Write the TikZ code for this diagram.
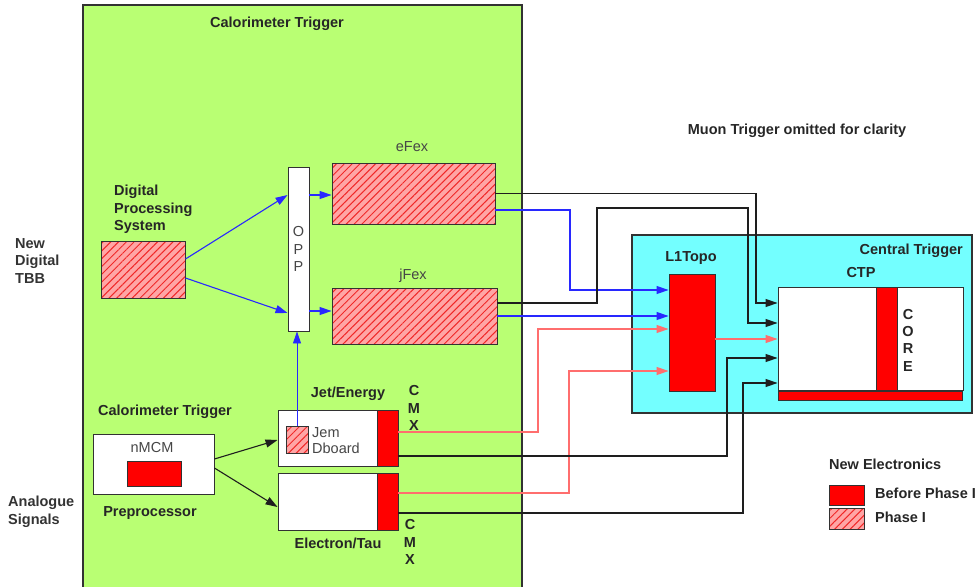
\documentclass[tikz,border=0pt]{standalone}
\usepackage{fontspec}
\setmainfont{Liberation Sans}
\usetikzlibrary{arrows.meta,patterns.meta}
\definecolor{calgreen}{RGB}{185,255,115}
\definecolor{ctcyan}{RGB}{115,255,255}
\definecolor{solidred}{RGB}{255,0,0}
\definecolor{hatchbg}{RGB}{255,165,165}
\definecolor{hatchline}{RGB}{240,40,40}
\definecolor{bluewire}{RGB}{40,40,255}
\definecolor{redwire}{RGB}{255,110,110}
\definecolor{blackwire}{RGB}{30,30,30}
\definecolor{edge}{RGB}{50,50,50}
\definecolor{softtext}{RGB}{70,70,70}
\begin{document}
\begin{tikzpicture}[x=1pt,y=-1pt,
  every node/.style={font=\fontsize{14.5}{17.5}\selectfont, inner sep=0pt},
  bold/.style={font=\fontsize{14.5}{17.5}\selectfont\bfseries, text=black!85},
  plain/.style={text=softtext},
  blockbox/.style={draw=edge, line width=0.9pt, inner sep=0pt},
  whitebox/.style={blockbox, fill=white},
  redbox/.style={blockbox, fill=solidred},
  hatchbox/.style={blockbox, preaction={fill=hatchbg}, pattern={Lines[angle=45,distance=5.5pt,line width=1pt]}, pattern color=hatchline},
  wire/.style={line width=1.1pt},
  tip/.style={-{Triangle[length=12pt,width=8pt]}},
  bluew/.style={wire, draw=bluewire},
  redw/.style={wire, draw=redwire},
  blackw/.style={wire, draw=blackwire},
]
\useasboundingbox (0,0) rectangle (979,586);

% containers
\node[blockbox, fill=calgreen, line width=1.3pt, minimum width=439pt, minimum height=585pt] (calo) at (302.5,297.5) {};
\node[blockbox, fill=ctcyan, line width=1.3pt, minimum width=340pt, minimum height=178pt] (central) at (802,324) {};

% titles and side labels
\node[bold, anchor=mid] (calotitle) at (277,25) {Calorimeter Trigger};
\node[bold, anchor=mid] (muon) at (797,132) {Muon Trigger omitted for clarity};
\node[bold, anchor=north west, align=left, text=black!80] (newtbb) at (15,238) {New\\Digital\\TBB};
\node[bold, anchor=north west, align=left, text=black!80] (analogue) at (8,496) {Analogue\\Signals};

% digital processing system
\node[bold, anchor=north west, align=left] (dpslabel) at (114,185) {Digital\\Processing\\System};
\node[hatchbox, minimum width=84pt, minimum height=57pt] (dps) at (143,269.5) {};

% OPP
\node[whitebox, minimum width=21pt, minimum height=164pt, align=center, plain] (opp) at (298.5,249) {O\\P\\P};

% eFex / jFex
\node[hatchbox, minimum width=163pt, minimum height=61pt] (efex) at (413.5,193.5) {};
\node[plain, anchor=mid] (efexlabel) at (412,149) {eFex};
\node[hatchbox, minimum width=165pt, minimum height=56pt] (jfex) at (414.5,316) {};
\node[plain, anchor=mid] (jfexlabel) at (413,277) {jFex};

% preprocessor
\node[bold, anchor=mid] (calotitle2) at (165,413) {Calorimeter Trigger};
\node[whitebox, minimum width=121pt, minimum height=60pt] (nmcmbox) at (153.5,464) {};
\node[plain, anchor=mid] (nmcmlabel) at (152,450) {nMCM};
\node[redbox, minimum width=54pt, minimum height=25pt] (nmcmred) at (154,473.5) {};
\node[bold, anchor=mid] (preproc) at (150,514) {Preprocessor};

% Jet/Energy
\node[whitebox, minimum width=99pt, minimum height=56pt] (je) at (327.5,438) {};
\node[redbox, minimum width=21pt, minimum height=56pt] (jecmx) at (387.5,438) {};
\node[hatchbox, minimum width=22pt, minimum height=27pt] (jem) at (297,439.5) {};
\node[plain, anchor=west, align=left, font=\fontsize{14.5}{16}\selectfont] (jemlabel) at (312,441) {Jem\\Dboard};
\node[bold, anchor=mid] (jelabel) at (348,395) {Jet/Energy};
\node[bold, align=center] (cmxtop) at (414,408) {C\\M\\X};

% Electron/Tau
\node[whitebox, minimum width=99pt, minimum height=57pt] (et) at (327.5,501.5) {};
\node[redbox, minimum width=21pt, minimum height=57pt] (etcmx) at (387.5,501.5) {};
\node[bold, anchor=mid] (etlabel) at (338,546) {Electron/Tau};
\node[bold, align=center] (cmxbot) at (410,542) {C\\M\\X};

% Central trigger
\node[bold, anchor=mid east] (centrallabel) at (963,252) {Central Trigger};
\node[bold, anchor=mid] (l1label) at (691,259) {L1Topo};
\node[redbox, minimum width=46pt, minimum height=117pt] (l1topo) at (692,332.5) {};
\node[bold, anchor=mid] (ctplabel) at (861,275) {CTP};
\node[whitebox, minimum width=185pt, minimum height=103pt] (ctp) at (870.5,338.5) {};
\node[redbox, minimum width=21pt, minimum height=103pt] (corebar) at (886.5,338.5) {};
\node[redbox, minimum width=184pt, minimum height=9pt] (ctpbar) at (870,395.5) {};
\node[bold, align=center, font=\fontsize{14.5}{17.3}\selectfont\bfseries] (corelabel) at (908,340) {C\\O\\R\\E};

% legend
\node[bold, anchor=mid west] (legtitle) at (829,467) {New Electronics};
\node[redbox, minimum width=35pt, minimum height=20pt] (legred) at (846.5,495) {};
\node[hatchbox, minimum width=35pt, minimum height=21pt] (leghatch) at (846.5,518.5) {};
\node[bold, anchor=mid west] (legredtext) at (875,496) {Before Phase I};
\node[bold, anchor=mid west] (leghatchtext) at (875,520) {Phase I};

% DPS -> OPP, OPP -> Fex
\draw[bluew, tip] ([yshift=10.5pt]dps.east) -- ([yshift=54pt]opp.west);
\draw[bluew, tip] ([yshift=-8.5pt]dps.east) -- ([yshift=-64pt]opp.west);
\draw[bluew, tip] ([yshift=54pt]opp.east) -- ([yshift=54pt]opp.east -| efex.west);
\draw[bluew, tip] ([yshift=-62pt]opp.east) -- ([yshift=-62pt]opp.east -| jfex.west);
\draw[bluewire, line width=0.9pt, tip] (jem.north) -- (jem.north |- opp.south);

% preprocessor -> JE / ET
\draw[blackw, tip] ([yshift=5pt]nmcmbox.east) -- ([yshift=-2pt]je.west);
\draw[blackw, tip] ([yshift=-4pt]nmcmbox.east) -- ([yshift=-5.5pt]et.west);

% eFex outputs
\draw[blackw, tip] (efex.east) -- (756,193.5) |- ([yshift=35.5pt]ctp.west);
\draw[bluew, tip] ([yshift=-16.5pt]efex.east) -- (570,210) |- ([yshift=42.5pt]l1topo.west);

% jFex outputs
\draw[blackw, tip] ([yshift=13pt]jfex.east) -- (597,303) -- (597,208) -- (748,208) |- ([yshift=15.5pt]ctp.west);
\draw[bluew, tip] (jfex.east) -- (jfex.east -| l1topo.west);

% CMX outputs
\draw[redw, tip] ([yshift=6pt]jecmx.east) -- (538,432) |- ([yshift=3.5pt]l1topo.west);
\draw[redw, tip] ([yshift=8.5pt]etcmx.east) -- (569,493) |- ([yshift=-38.5pt]l1topo.west);
\draw[blackw, tip] ([yshift=-18pt]jecmx.east) -- (727,456) |- ([yshift=-19.5pt]ctp.west);
\draw[blackw, tip] ([yshift=-11.5pt]etcmx.east) -- (743,513) |- ([yshift=-44.5pt]ctp.west);

% L1Topo -> CTP
\draw[redw, tip] ([yshift=-6.5pt]l1topo.east) -- ([yshift=-6.5pt]l1topo.east -| ctp.west);
\end{tikzpicture}
\end{document}
